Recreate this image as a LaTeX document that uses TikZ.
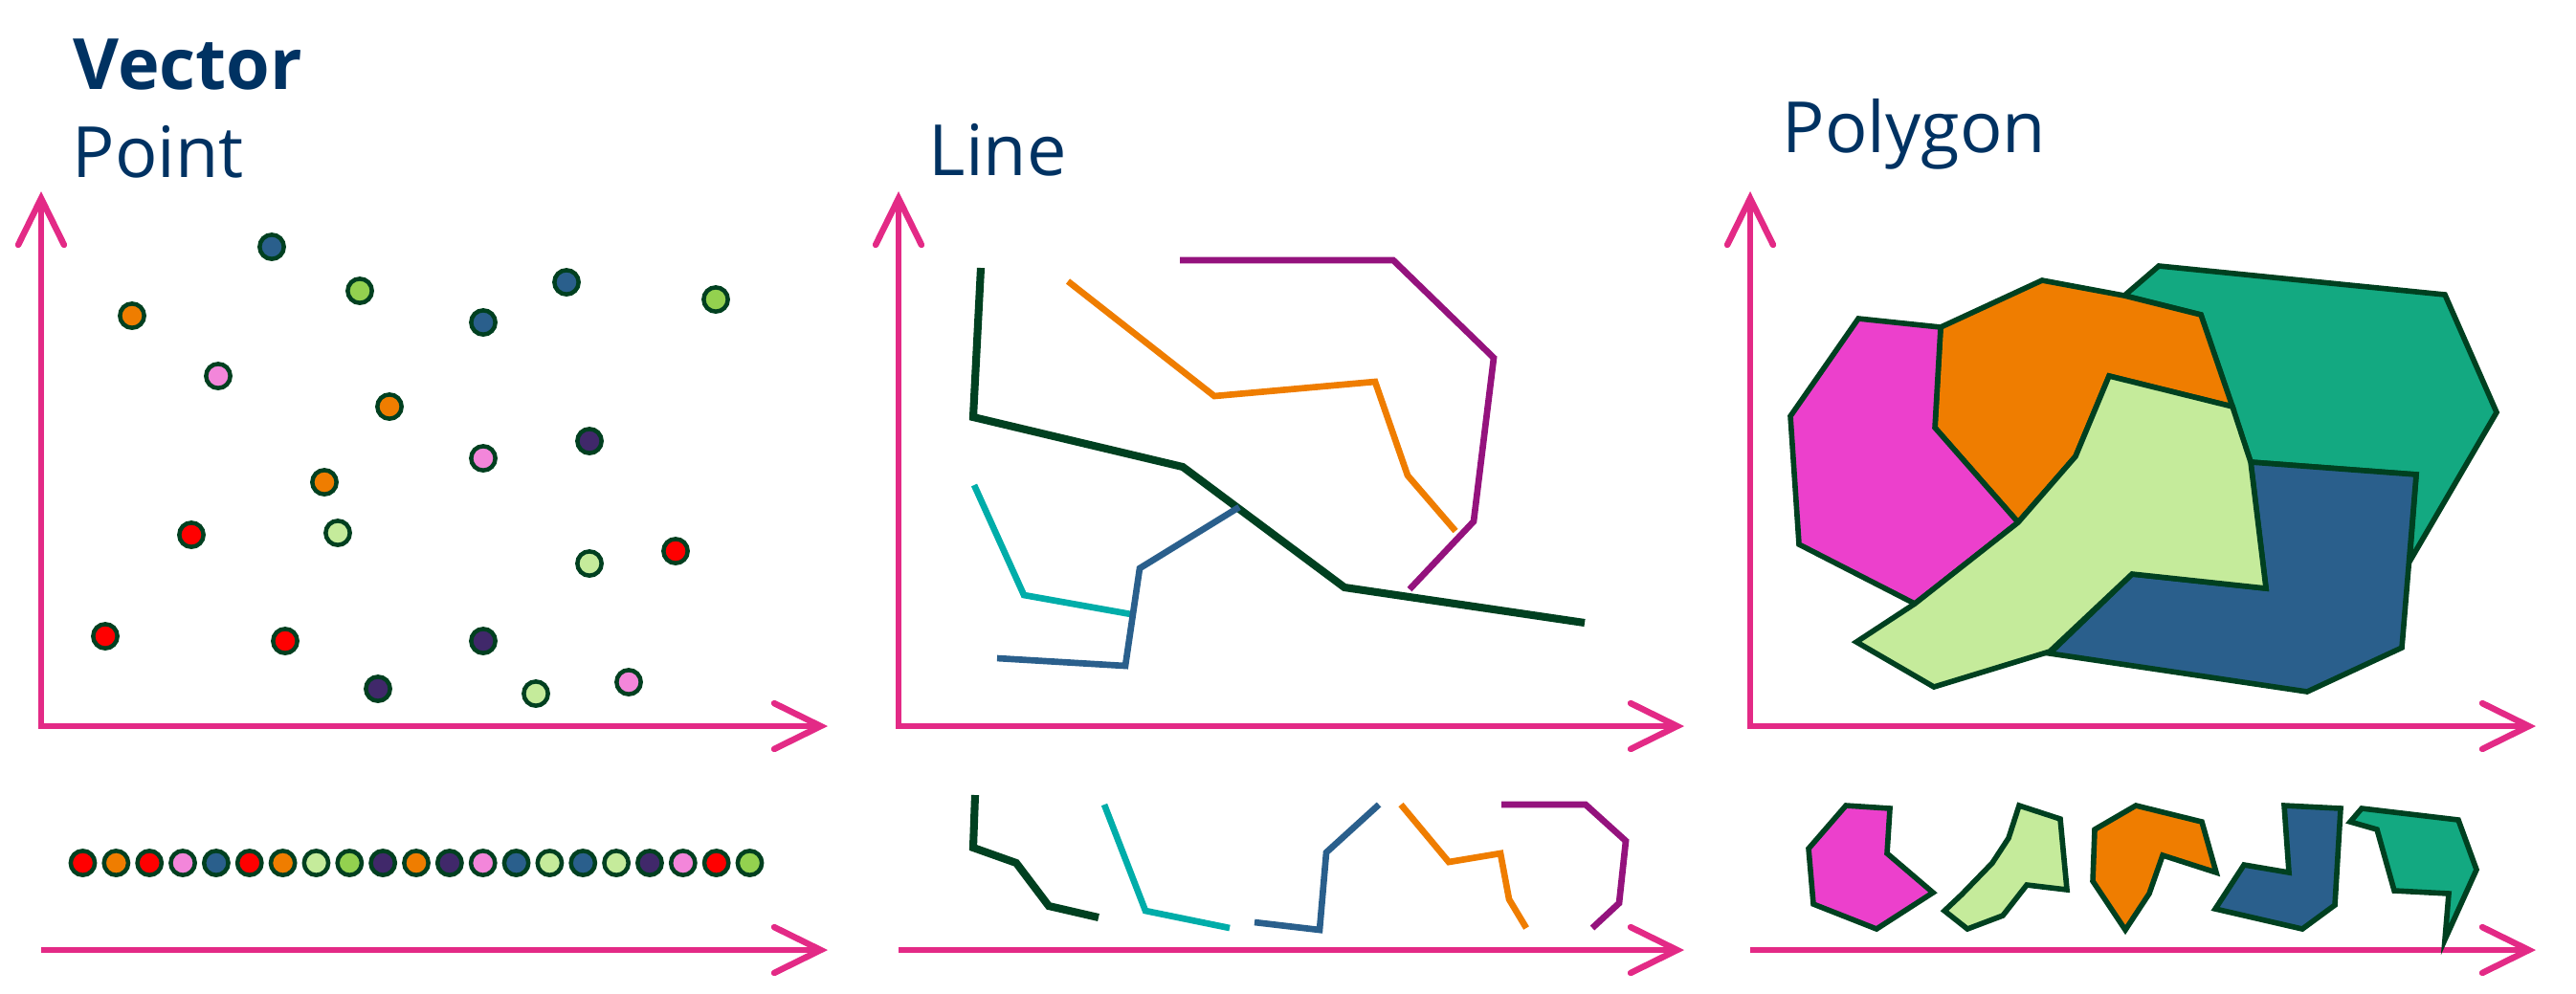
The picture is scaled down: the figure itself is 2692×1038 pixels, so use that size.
\documentclass[tikz,border=0pt]{standalone}
\usepackage{fontspec}
\setmainfont{Open Sans}
\usetikzlibrary{arrows.meta}
\definecolor{vecnavy}{HTML}{003262}
\definecolor{axispink}{HTML}{E32A86}
\definecolor{edgegreen}{HTML}{004020}
\definecolor{dotred}{HTML}{FF0000}
\definecolor{dotorange}{HTML}{EF7D00}
\definecolor{dotpink}{HTML}{F386DA}
\definecolor{dotblue}{HTML}{2A5F8C}
\definecolor{dotlight}{HTML}{C5EB9B}
\definecolor{dotgreen}{HTML}{93D14F}
\definecolor{dotpurple}{HTML}{40286A}
\definecolor{lnmagenta}{HTML}{94127D}
\definecolor{lnteal}{HTML}{00ADA9}
\definecolor{polypink}{HTML}{EC40CC}
\definecolor{polyteal}{HTML}{13A981}
\tikzset{
  barb/.tip={Straight Barb[length=13.8pt,width=13.6pt,line cap=round]},
  axis/.style={draw=axispink,line width=1.85pt},
  titletext/.style={anchor=base west,inner sep=0pt,text=vecnavy,
    font=\fontsize{21}{25}\selectfont},
  ptdot/.style={draw=edgegreen,line width=1.28pt},
  vline/.style={line width=1.9pt},
  vpoly/.style={draw=edgegreen,line width=1.6pt}
}

\begin{document}
\begin{tikzpicture}[x=0.01cm,y=-0.01cm]
  \useasboundingbox (0,0) rectangle (2692,1038);
  % titles
  \node[titletext,font=\fontsize{21}{25}\selectfont\bfseries] (vectorlabel) at (76,93) {Vector};
  \node[titletext] (pointlabel) at (75,185) {Point};
  \node[titletext] (linelabel) at (970,183) {Line};
  \node[titletext] (polylabel) at (1862,159) {Polygon};
  % axes
  \foreach \ax/\bx in {43/865,939/1760,1829/2650} {
    \draw[axis,barb-barb] (\ax,200)--(\ax,759)--(\bx,759);
    \draw[axis,-barb] (\ax,993)--(\bx,993);
  }
  % points
  \foreach \px/\py/\pc in {284/258/dotblue,376/304/dotgreen,592/295/dotblue,
      748/313/dotgreen,138/330/dotorange,505/337/dotblue,228/393/dotpink,
      407/425/dotorange,616/461/dotpurple,505/479/dotpink,339/504/dotorange,
      200/559/dotred,353/557/dotlight,616/589/dotlight,706/576/dotred,
      110/665/dotred,298/670/dotred,505/670/dotpurple,395/720/dotpurple,
      560/725/dotlight,657/713/dotpink}
    \filldraw[ptdot,fill=\pc] (\px,\py) circle[radius=3.6pt];
  \foreach \pc [count=\i from 0] in {dotred,dotorange,dotred,dotpink,dotblue,
      dotred,dotorange,dotlight,dotgreen,dotpurple,dotorange,dotpurple,dotpink,
      dotblue,dotlight,dotblue,dotlight,dotpurple,dotpink,dotred,dotgreen}
    \filldraw[ptdot,fill=\pc] ({86.5+34.85*\i},902) circle[radius=3.6pt];
  % lines
  \draw[vline,edgegreen,line width=2.3pt] (1025,280)--(1017,436)--(1236,488)--(1405,614)--(1656,651);
  \draw[vline,dotorange] (1116,294)--(1269,414)--(1437,399)--(1471,497)--(1521,555);
  \draw[vline,lnmagenta] (1233,272)--(1456,272)--(1561,374)--(1540,545)--(1473,616);
  \draw[vline,lnteal] (1018,507)--(1070,622)--(1182,642);
  \draw[vline,dotblue] (1295,530)--(1191,594)--(1176,696)--(1042,688);
  \draw[vline,edgegreen,line width=2.3pt] (1019,831)--(1017,886)--(1062,902)--(1096,947)--(1148,959);
  \draw[vline,lnteal] (1154,841)--(1197,952)--(1285,970);
  \draw[vline,dotblue] (1311,964)--(1379,972)--(1386,891)--(1441,841);
  \draw[vline,dotorange] (1464,841)--(1514,901)--(1568,892)--(1577,940)--(1595,970);
  \draw[vline,lnmagenta] (1569,841)--(1657,841)--(1699,879)--(1692,944)--(1664,970);
  % polygons
  \filldraw[vpoly,fill=polyteal] (2220,309)--(2256,278)--(2555,308)--(2609,431)
    --(2518,587)--(2525,496)--(2352,483)--(2300,329)--cycle;
  \filldraw[vpoly,fill=dotblue] (2352,483)--(2525,496)--(2510,677)--(2411,723)
    --(2142,683)--(2228,600)--(2368,615)--cycle;
  \filldraw[vpoly,fill=dotorange] (2028,342)--(2134,293)--(2220,309)--(2300,329)
    --(2333,425)--(2204,393)--(2169,477)--(2109,546)--(2022,447)--cycle;
  \filldraw[vpoly,fill=polypink] (1942,333)--(2028,342)--(2022,447)--(2109,546)
    --(2001,631)--(1880,569)--(1871,435)--cycle;
  \filldraw[vpoly,fill=dotlight] (2204,393)--(2333,425)--(2352,483)--(2368,615)
    --(2228,600)--(2142,681)--(2021,718)--(1940,671)--(2001,631)--(2109,546)
    --(2169,477)--cycle;
  \filldraw[vpoly,fill=polypink] (1929,842)--(1975,845)--(1972,892)--(2020,933)
    --(1961,971)--(1895,945)--(1890,887)--cycle;
  \filldraw[vpoly,fill=dotlight] (2110,842)--(2153,856)--(2160,930)--(2118,925)
    --(2093,957)--(2056,971)--(2032,952)--(2050,935)--(2082,902)--(2099,876)--cycle;
  \filldraw[vpoly,fill=dotorange] (2232,842)--(2301,859)--(2316,912)--(2260,894)
    --(2246,934)--(2221,972)--(2187,921)--(2189,867)--cycle;
  \filldraw[vpoly,fill=dotblue] (2387,842)--(2446,845)--(2440,946)--(2406,971)
    --(2315,950)--(2345,904)--(2392,912)--cycle;
  \filldraw[vpoly,fill=polyteal] (2468,845)--(2569,857)--(2588,909)--(2555,982)
    --(2559,934)--(2502,931)--(2484,867)--(2456,859)--cycle;
\end{tikzpicture}
\end{document}
